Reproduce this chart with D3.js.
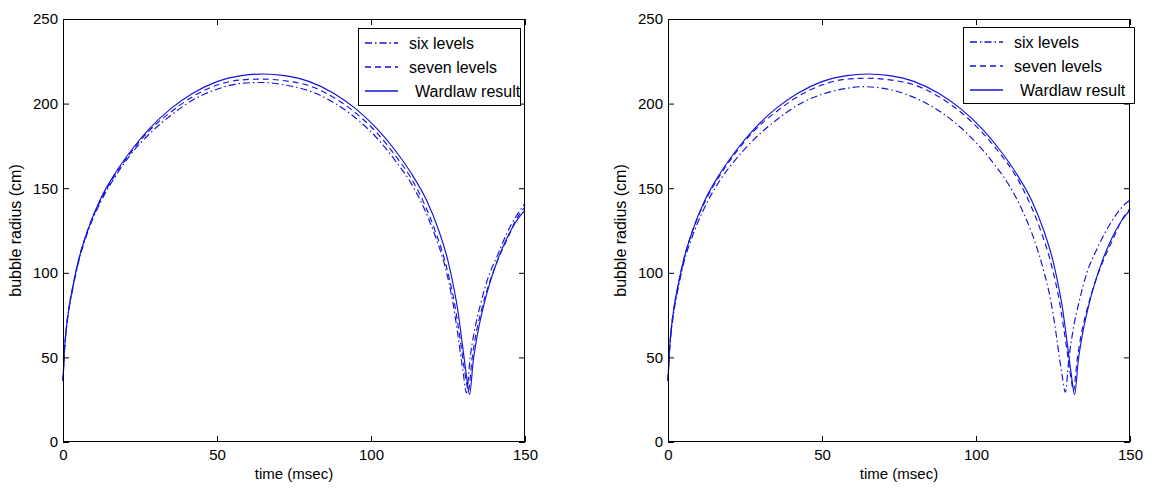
<!DOCTYPE html>
<html>
<head>
<meta charset="utf-8">
<script src="https://cdn.jsdelivr.net/npm/d3@7"></script>
<style>
  body { margin: 0; background: #fff; }
  svg { font-family: "Liberation Sans", Arial, sans-serif; }
</style>
</head>
<body>
<svg id="chart" width="1151" height="496"></svg>
<script>
// ---- data ----
const xTicks = [0, 50, 100, 150];
const yTicks = [0, 50, 100, 150, 200, 250];
const legendLabels = ["six levels", "seven levels", "Wardlaw result"];

// Wardlaw result (same reference curve in both panels)
const wardT = [0, 0.5, 1, 2, 3, 5, 8, 12, 17, 22, 28, 35, 42, 50, 58, 65, 72, 80, 88, 95, 102, 108, 113, 118, 122, 125, 127, 128, 129, 130, 131, 132, 133.2, 134.5, 136.5, 138.6, 141, 144, 147, 150];
const wardR = [36, 55, 66, 80, 90, 107, 125, 143, 159, 172, 185, 197, 206, 213, 216.5, 217.5, 216.5, 213, 206, 197, 185, 172, 159, 143, 125, 107, 90, 80, 67, 53, 39, 28, 48, 63, 80, 94, 107, 120, 130, 137];

// left panel
const leftSixT = [0, 0.5, 1, 2, 3, 5, 8, 12, 17, 22, 28, 35, 42, 50, 58, 65, 72, 80, 88, 95, 102, 108, 113, 117, 121, 124, 126, 127, 128, 129, 130, 131, 132.2, 133.5, 135.5, 138, 141, 144, 147, 150];
const leftSixR = [36, 55, 65, 79, 89, 106, 124, 141, 157, 170, 182, 193, 202, 208.5, 212, 212.5, 211, 207.5, 200.5, 191.5, 179.5, 166, 153, 139, 121, 104, 88, 78, 66, 53, 40, 29, 50, 65, 81, 97, 110, 123, 133, 141];
const leftSevenT = [0, 0.5, 1, 2, 3, 5, 8, 12, 17, 22, 28, 35, 42, 50, 58, 65, 72, 80, 88, 95, 102, 108, 113, 117, 121, 124, 126, 127, 128, 129, 130, 131, 131.6, 132.8, 134, 136, 138.6, 141.5, 144.5, 147, 150];
const leftSevenR = [36, 55, 66, 80, 90, 107, 125, 142, 158, 171, 184, 195, 204, 211, 214, 214.5, 213.5, 210.5, 203.5, 194.5, 182.5, 169, 156, 142, 124, 107, 92, 83, 72, 60, 47, 35, 30, 49, 63, 79, 95, 109, 121, 131, 139];

// right panel
const rightSixT = [0, 0.5, 1, 2, 3, 5, 8, 12, 17, 22, 28, 35, 42, 50, 58, 63, 70, 78, 86, 93, 100, 106, 111, 115, 119, 122, 124, 125, 126, 127, 128, 129, 130.2, 131.5, 133.5, 136, 139, 142, 145, 148, 150];
const rightSixR = [36, 54, 64, 78, 88, 105, 122, 139, 155, 167, 179, 190, 199, 205.5, 209, 210, 209, 205, 198, 189, 177, 164, 151, 137, 119, 101, 86, 76, 64, 51, 39, 29.5, 50, 66, 83, 100, 113, 124, 133, 140, 143];
const rightSevenT = [0, 0.5, 1, 2, 3, 5, 8, 12, 17, 22, 28, 35, 42, 50, 58, 65, 72, 80, 88, 95, 102, 108, 113, 117, 121, 124, 126, 127, 128, 129, 130, 131, 131.6, 132.8, 134, 136, 138.6, 141.5, 144.5, 147, 150];
const rightSevenR = [36, 55, 66, 80, 90, 107, 125, 142, 158, 171, 184, 195, 204, 211, 214.5, 215, 214, 211, 204, 195, 183, 170, 157, 143, 125, 108, 93, 84, 73, 61, 48, 36, 30, 48, 62, 78, 94, 108, 120, 130, 138];

const zip = (t, r) => t.map((v, i) => [v, r[i]]);

const panels = [
  { left: 63, legend: { x: 358, y: 28, w: 162, h: 77 },
    series: [zip(leftSixT, leftSixR), zip(leftSevenT, leftSevenR), zip(wardT, wardR)] },
  { left: 668, legend: { x: 963, y: 27, w: 171, h: 76 },
    series: [zip(rightSixT, rightSixR), zip(rightSevenT, rightSevenR), zip(wardT, wardR)] }
];

const plotW = 462, plotTop = 19, plotBottom = 442;
const lineColor = "#1212dd";
const textColor = "#000";
const dashes = ["7,3,1.5,3", "6,4", null];

const svg = d3.select("#chart");

panels.forEach(p => {
  const x = d3.scaleLinear().domain([0, 150]).range([p.left, p.left + plotW]);
  const y = d3.scaleLinear().domain([0, 250]).range([plotBottom, plotTop]);
  const g = svg.append("g");

  // curves
  const line = d3.line().x(d => x(d[0])).y(d => y(d[1])).curve(d3.curveMonotoneX);
  p.series.forEach((s, i) => {
    g.append("path")
      .attr("d", line(s))
      .attr("fill", "none")
      .attr("stroke", lineColor)
      .attr("stroke-width", 1.15)
      .attr("stroke-dasharray", dashes[i]);
  });

  // axes (ticks inward, mirrored, like matlab box)
  const tickStyle = sel => {
    sel.select(".domain").remove();
    sel.selectAll("line").attr("stroke", "#000");
    sel.selectAll("text").attr("fill", textColor).style("font-size", "15px");
  };
  g.append("g").attr("transform", `translate(0,${plotBottom})`)
    .call(d3.axisBottom(x).tickValues(xTicks).tickSizeInner(-6).tickSizeOuter(0).tickPadding(7))
    .call(tickStyle);
  g.append("g").attr("transform", `translate(0,${plotTop})`)
    .call(d3.axisTop(x).tickValues(xTicks).tickSizeInner(-6).tickSizeOuter(0).tickFormat(""))
    .call(tickStyle);
  g.append("g").attr("transform", `translate(${p.left},0)`)
    .call(d3.axisLeft(y).tickValues(yTicks).tickSizeInner(-6).tickSizeOuter(0).tickPadding(5))
    .call(tickStyle);
  g.append("g").attr("transform", `translate(${p.left + plotW},0)`)
    .call(d3.axisRight(y).tickValues(yTicks).tickSizeInner(-6).tickSizeOuter(0).tickFormat(""))
    .call(tickStyle);

  g.append("rect")
    .attr("x", p.left + 0.5).attr("y", plotTop + 0.5)
    .attr("width", plotW - 1).attr("height", plotBottom - plotTop - 1)
    .attr("fill", "none").attr("stroke", "#000");

  // axis titles
  g.append("text")
    .attr("x", p.left + plotW / 2).attr("y", 479)
    .attr("text-anchor", "middle").style("font-size", "15px").attr("fill", textColor)
    .text("time (msec)");
  g.append("text")
    .attr("transform", `translate(${p.left - 42},${(plotTop + plotBottom) / 2}) rotate(-90)`)
    .attr("text-anchor", "middle").style("font-size", "16px").attr("fill", textColor)
    .text("bubble radius (cm)");

  // legend
  const L = p.legend;
  const lg = g.append("g");
  lg.append("rect")
    .attr("x", L.x + 0.5).attr("y", L.y + 0.5).attr("width", L.w).attr("height", L.h)
    .attr("fill", "#fff").attr("stroke", "#000");
  legendLabels.forEach((lab, i) => {
    const cy = L.y + 15 + i * 24;
    lg.append("line")
      .attr("x1", L.x + 7).attr("x2", L.x + 40).attr("y1", cy).attr("y2", cy)
      .attr("stroke", lineColor).attr("stroke-width", 1.3)
      .attr("stroke-dasharray", dashes[i]);
    lg.append("text")
      .attr("x", L.x + (i === 2 ? 57 : 51)).attr("y", cy + 6)
      .style("font-size", "16px").attr("fill", textColor)
      .text(lab);
  });
});
</script>
</body>
</html>
